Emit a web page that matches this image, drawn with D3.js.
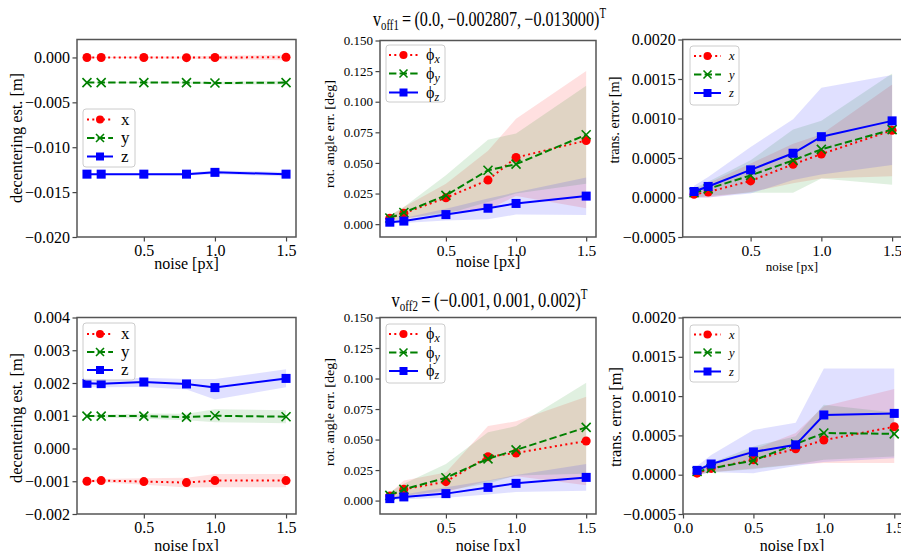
<!DOCTYPE html>
<html>
<head>
<meta charset="utf-8">
<script src="https://cdn.jsdelivr.net/npm/d3@7"></script>
<style>
  body { margin: 0; background: #fff; }
  svg { display: block; font-family: "Liberation Serif", "Times New Roman", serif; }
  svg text { font-family: "Liberation Serif", "Times New Roman", serif; }
</style>
</head>
<body>
<svg id="chart" width="901" height="551"></svg>
<script>
// noise levels on the x axis
const noise = [0.1, 0.2, 0.5, 0.8, 1.0, 1.5];

// --- v_off1: decentering estimate [m]
const dec1X   = [0.0, 0.0, 0.0, -0.00002, 0.0, 0.00002];
const dec1XLo = [-0.00005, -0.00005, -0.0001, -0.00015, -0.0002, -0.0003];
const dec1XHi = [0.00005, 0.00005, 0.0001, 0.00012, 0.0002, 0.0003];
const dec1Y   = [-0.0028, -0.0028, -0.0028, -0.0028, -0.00285, -0.0028];
const dec1YLo = [-0.00283, -0.00284, -0.00288, -0.0029, -0.003, -0.003];
const dec1YHi = [-0.00277, -0.00276, -0.00272, -0.0027, -0.0027, -0.0026];
const dec1Z   = [-0.0130, -0.0130, -0.0130, -0.0130, -0.0128, -0.0130];
const dec1ZLo = [-0.01305, -0.01308, -0.0131, -0.01315, -0.013, -0.01325];
const dec1ZHi = [-0.01295, -0.01292, -0.0129, -0.01285, -0.0126, -0.01275];

// --- v_off1: rotation angle error [deg]
const rot1X   = [0.0049, 0.009, 0.0215, 0.036, 0.0544, 0.0683];
const rot1XLo = [0.003, 0.004, 0.010, 0.012, 0.023, 0.013];
const rot1XHi = [0.007, 0.014, 0.033, 0.060, 0.086, 0.125];
const rot1Y   = [0.005, 0.0095, 0.0235, 0.044, 0.049, 0.073];
const rot1YLo = [0.003, 0.005, 0.008, 0.018, 0.025, 0.033];
const rot1YHi = [0.007, 0.014, 0.040, 0.069, 0.074, 0.113];
const rot1Z   = [0.0016, 0.0025, 0.0078, 0.013, 0.0169, 0.0229];
const rot1ZLo = [0.0005, 0.001, 0.003, 0.004, 0.0078, 0.0075];
const rot1ZHi = [0.003, 0.005, 0.0125, 0.021, 0.026, 0.038];

// --- v_off1: translation error [m]
const tr1X   = [0.00004, 0.00007, 0.00021, 0.00042, 0.00055, 0.00085];
const tr1XLo = [0.0, 0.0, 0.00007, 0.00018, 0.00024, 0.00027];
const tr1XHi = [0.0001, 0.00018, 0.00043, 0.00068, 0.0008, 0.00143];
const tr1Y   = [0.00006, 0.00011, 0.00028, 0.00047, 0.00061, 0.00086];
const tr1YLo = [0.0, 0.00002, 0.00006, 0.00006, 0.00024, 0.00016];
const tr1YHi = [0.00012, 0.0002, 0.00047, 0.00086, 0.00097, 0.00157];
const tr1Z   = [0.000076, 0.00014, 0.00035, 0.00056, 0.00077, 0.00097];
const tr1ZLo = [0.0, 0.0, 0.00005, 0.00022, 0.00029, 0.00041];
const tr1ZHi = [0.00015, 0.00026, 0.00064, 0.00099, 0.00139, 0.00155];

// --- v_off2: decentering estimate [m]
const dec2X   = [-0.00100, -0.00098, -0.00101, -0.00104, -0.00098, -0.00098];
const dec2XLo = [-0.00104, -0.00103, -0.00111, -0.00119, -0.00118, -0.00118];
const dec2XHi = [-0.00096, -0.00093, -0.00091, -0.00089, -0.00078, -0.00078];
const dec2Y   = [0.00099, 0.00099, 0.00099, 0.00096, 0.0010, 0.00097];
const dec2YLo = [0.00096, 0.00095, 0.00091, 0.00086, 0.00080, 0.00077];
const dec2YHi = [0.00102, 0.00103, 0.00107, 0.00106, 0.00120, 0.00117];
const dec2Z   = [0.00199, 0.00198, 0.00203, 0.00197, 0.00186, 0.00214];
const dec2ZLo = [0.00187, 0.00187, 0.00188, 0.0018, 0.0015, 0.00187];
const dec2ZHi = [0.00211, 0.00211, 0.00216, 0.00212, 0.00212, 0.00242];

// --- v_off2: rotation angle error [deg]
const rot2X   = [0.0038, 0.0092, 0.0155, 0.036, 0.039, 0.0488];
const rot2XLo = [0.002, 0.004, 0.007, 0.016, 0.020, 0.0125];
const rot2XHi = [0.006, 0.0165, 0.023, 0.061, 0.065, 0.085];
const rot2Y   = [0.0043, 0.0092, 0.0187, 0.0342, 0.0415, 0.060];
const rot2YLo = [0.002, 0.004, 0.008, 0.014, 0.0206, 0.022];
const rot2YHi = [0.007, 0.0138, 0.030, 0.056, 0.061, 0.0966];
const rot2Z   = [0.0016, 0.003, 0.0057, 0.0108, 0.0141, 0.019];
const rot2ZLo = [0.0005, 0.001, 0.0024, 0.0049, 0.007, 0.008];
const rot2ZHi = [0.003, 0.005, 0.011, 0.0165, 0.021, 0.030];

// --- v_off2: translation error [m]
const tr2X   = [0.00002, 0.00008, 0.00019, 0.00033, 0.00044, 0.00061];
const tr2XLo = [0.0, 0.00003, 0.00008, 0.00013, 0.00015, 0.00015];
const tr2XHi = [0.00005, 0.00014, 0.00032, 0.00053, 0.00087, 0.00109];
const tr2Y   = [0.00004, 0.00008, 0.00018, 0.00039, 0.00053, 0.00052];
const tr2YLo = [0.0, 0.00003, 0.00007, 0.00013, 0.00019, 0.00023];
const tr2YHi = [0.00008, 0.00015, 0.00036, 0.00049, 0.00089, 0.00079];
const tr2Z   = [0.000055, 0.000136, 0.00029, 0.00038, 0.00076, 0.00078];
const tr2ZLo = [0.0, 0.00003, 0.00002, 0.00011, 0.00016, 0.00021];
const tr2ZHi = [0.00011, 0.00025, 0.00057, 0.00066, 0.00135, 0.00135];

// tick values
const decTicks1 = [-0.020, -0.015, -0.010, -0.005, 0.000];
const decTicks2 = [-0.002, -0.001, 0.000, 0.001, 0.002, 0.003, 0.004];
const rotTicks = [0.000, 0.025, 0.050, 0.075, 0.100, 0.125, 0.150];
const transTicks = [-0.0005, 0.0000, 0.0005, 0.0010, 0.0015, 0.0020];
const noiseTicks = [0.5, 1.0, 1.5];
const noiseTicksZero = [0.0, 0.5, 1.0, 1.5];

const svg = d3.select('#chart');
const serif = '"Liberation Serif", "Times New Roman", serif';

const styles = [
  { color: '#ff0000', dash: '2,3.3', marker: 'circle' },
  { color: '#008000', dash: '7.4,3.2', marker: 'x' },
  { color: '#0000ff', dash: null, marker: 'square' }
];

function marker(g, type, cx, cy, color, s) {
  if (type === 'circle') {
    g.append('circle').attr('cx', cx).attr('cy', cy).attr('r', s / 2).attr('fill', color);
  } else if (type === 'square') {
    g.append('rect').attr('x', cx - s / 2).attr('y', cy - s / 2)
      .attr('width', s).attr('height', s).attr('fill', color);
  } else {
    const h = s / 2;
    g.append('path')
      .attr('d', `M${cx - h},${cy - h}L${cx + h},${cy + h}M${cx - h},${cy + h}L${cx + h},${cy - h}`)
      .attr('stroke', color).attr('stroke-width', 1.6).attr('fill', 'none');
  }
}

function panel(o) {
  const x = d3.scaleLinear().domain(o.xDomain).range([o.left, o.right]);
  const y = d3.scaleLinear().domain(o.yDomain).range([o.bottom, o.top]);
  const g = svg.append('g');

  // bands first
  o.series.forEach((s, i) => {
    const pts = noise.map((n, k) => ({ n, lo: s.lo[k], hi: s.hi[k] }));
    g.append('path').datum(pts)
      .attr('d', d3.area().x(d => x(d.n)).y0(d => y(d.lo)).y1(d => y(d.hi)))
      .attr('fill', styles[i].color).attr('fill-opacity', 0.12);
  });

  // lines + markers
  o.series.forEach((s, i) => {
    const st = styles[i];
    const pts = noise.map((n, k) => [x(n), y(s.mean[k])]);
    g.append('path').datum(pts)
      .attr('d', d3.line())
      .attr('fill', 'none').attr('stroke', st.color).attr('stroke-width', 2)
      .attr('stroke-dasharray', st.dash);
    pts.forEach(p => marker(g, st.marker, p[0], p[1], st.color, 9));
  });

  // axes
  const yAxis = d3.axisLeft(y).tickValues(o.yTicks).tickFormat(d3.format(o.yFmt))
    .tickSize(4.5).tickSizeOuter(0).tickPadding(2.5);
  const ya = g.append('g').attr('transform', `translate(${o.left},0)`).call(yAxis);
  ya.selectAll('text').style('font-size', o.yFont + 'px');

  const xAxis = d3.axisBottom(x).tickValues(o.xTicks).tickFormat(d3.format('.1f'))
    .tickSize(4.5).tickSizeOuter(0).tickPadding(3);
  const xa = g.append('g').attr('transform', `translate(0,${o.bottom})`).call(xAxis);
  xa.selectAll('text').style('font-size', o.xFont + 'px');

  [ya, xa].forEach(a => {
    a.attr('font-family', null).attr('font-size', null);
    a.selectAll('text').style('font-family', serif).attr('fill', '#000');
    a.select('.domain').remove();
    a.selectAll('.tick line').attr('stroke', '#444').attr('stroke-width', 1.2);
  });

  g.append('rect')
    .attr('x', o.left).attr('y', o.top)
    .attr('width', o.right - o.left).attr('height', o.bottom - o.top)
    .attr('fill', 'none').attr('stroke', '#555').attr('stroke-width', 1.5);

  // axis labels
  g.append('text')
    .attr('transform', `translate(${o.ylabelX},${o.ylabelY}) rotate(-90)`)
    .attr('text-anchor', 'middle')
    .attr('textLength', o.ylabelLen).attr('lengthAdjust', 'spacingAndGlyphs')
    .style('font-size', o.ylabelFont + 'px')
    .text(o.ylabel);
  g.append('text')
    .attr('x', (o.left + Math.min(o.right, 901)) / 2)
    .attr('y', o.xlabelY)
    .attr('text-anchor', 'middle')
    .style('font-size', o.xlabelFont + 'px')
    .text('noise [px]');

  // legend
  const L = o.legend;
  const lg = g.append('g');
  lg.append('rect')
    .attr('x', L.x).attr('y', L.y).attr('width', L.w).attr('height', L.h)
    .attr('rx', 3).attr('fill', '#fff').attr('fill-opacity', 0.85)
    .attr('stroke', '#ccc').attr('stroke-width', 1);
  L.rows.forEach((ry, i) => {
    const st = styles[i];
    lg.append('line')
      .attr('x1', L.x + L.lineX0).attr('x2', L.x + L.lineX1).attr('y1', ry).attr('y2', ry)
      .attr('stroke', st.color).attr('stroke-width', 2).attr('stroke-dasharray', st.dash);
    marker(lg, st.marker, L.x + (L.lineX0 + L.lineX1) / 2, ry, st.color, 8);
    L.label(lg, i, L.x + L.textX, ry);
  });
}

const axisNames = ['x', 'y', 'z'];

function plainLabel(lg, i, tx, ty) {
  lg.append('text').attr('x', tx).attr('y', ty + 5)
    .style('font-size', '17px').text(axisNames[i]);
}
function phiLabel(lg, i, tx, ty) {
  const t = lg.append('text').attr('x', tx).attr('y', ty + 5).style('font-size', '16px');
  t.append('tspan').text('ϕ');
  t.append('tspan').attr('dy', 3).style('font-size', '12px').style('font-style', 'italic').text(axisNames[i]);
}
function italicLabel(lg, i, tx, ty) {
  lg.append('text').attr('x', tx).attr('y', ty + 4)
    .style('font-size', '12.5px').style('font-style', 'italic').text(axisNames[i]);
}

const colL = [77, 296], colM = [380, 596], colR = [682.7, 902];
const rowT = [39.5, 237], rowB = [317.5, 514];

function mk(mean, lo, hi) { return { mean, lo, hi }; }

// top row
panel({
  left: colL[0], right: colL[1], top: rowT[0], bottom: rowT[1],
  xDomain: [0.03, 1.57], yDomain: [-0.020, 0.002], yTicks: decTicks1, yFmt: '.3f',
  xTicks: noiseTicks, yFont: 16, xFont: 16,
  series: [mk(dec1X, dec1XLo, dec1XHi), mk(dec1Y, dec1YLo, dec1YHi), mk(dec1Z, dec1ZLo, dec1ZHi)],
  ylabel: 'decentering est. [m]', ylabelX: 21.5, ylabelY: 138, ylabelLen: 130, ylabelFont: 16,
  xlabelY: 269, xlabelFont: 16,
  legend: { x: 83, y: 109, w: 52, h: 58, rows: [119.5, 138, 156.5], lineX0: 4, lineX1: 30, textX: 38, label: plainLabel }
});
panel({
  left: colM[0], right: colM[1], top: 40.5, bottom: rowT[1],
  xDomain: [0.03, 1.57], yDomain: [-0.0105, 0.150], yTicks: rotTicks, yFmt: '.3f',
  xTicks: noiseTicks, yFont: 13, xFont: 15.5,
  series: [mk(rot1X, rot1XLo, rot1XHi), mk(rot1Y, rot1YLo, rot1YHi), mk(rot1Z, rot1ZLo, rot1ZHi)],
  ylabel: 'rot. angle err. [deg]', ylabelX: 334, ylabelY: 134, ylabelLen: 108, ylabelFont: 13.5,
  xlabelY: 267, xlabelFont: 16,
  legend: { x: 386, y: 45, w: 59, h: 57, rows: [55, 73.5, 92.5], lineX0: 3, lineX1: 32, textX: 40, label: phiLabel }
});
panel({
  left: colR[0], right: colR[1], top: rowT[0], bottom: rowT[1],
  xDomain: [0.02, 1.57], yDomain: [-0.0005, 0.0020], yTicks: transTicks, yFmt: '.4f',
  xTicks: noiseTicks, yFont: 16, xFont: 15.5,
  series: [mk(tr1X, tr1XLo, tr1XHi), mk(tr1Y, tr1YLo, tr1YHi), mk(tr1Z, tr1ZLo, tr1ZHi)],
  ylabel: 'trans. error [m]', ylabelX: 619, ylabelY: 120, ylabelLen: 87, ylabelFont: 14,
  xlabelY: 271, xlabelFont: 13,
  legend: { x: 690, y: 46, w: 49, h: 59, rows: [56, 74.5, 93], lineX0: 4, lineX1: 31, textX: 39, label: italicLabel }
});

// bottom row
panel({
  left: colL[0], right: colL[1], top: rowB[0], bottom: rowB[1],
  xDomain: [0.03, 1.57], yDomain: [-0.002, 0.004], yTicks: decTicks2, yFmt: '.3f',
  xTicks: noiseTicks, yFont: 16, xFont: 16,
  series: [mk(dec2X, dec2XLo, dec2XHi), mk(dec2Y, dec2YLo, dec2YHi), mk(dec2Z, dec2ZLo, dec2ZHi)],
  ylabel: 'decentering est. [m]', ylabelX: 21.5, ylabelY: 418, ylabelLen: 130, ylabelFont: 16,
  xlabelY: 551, xlabelFont: 16,
  legend: { x: 83, y: 323, w: 52, h: 57, rows: [334, 352, 370], lineX0: 4, lineX1: 30, textX: 38, label: plainLabel }
});
panel({
  left: colM[0], right: colM[1], top: rowB[0], bottom: rowB[1],
  xDomain: [0.03, 1.57], yDomain: [-0.011, 0.150], yTicks: rotTicks, yFmt: '.3f',
  xTicks: noiseTicks, yFont: 13, xFont: 15.5,
  series: [mk(rot2X, rot2XLo, rot2XHi), mk(rot2Y, rot2YLo, rot2YHi), mk(rot2Z, rot2ZLo, rot2ZHi)],
  ylabel: 'rot. angle err. [deg]', ylabelX: 334, ylabelY: 412, ylabelLen: 108, ylabelFont: 13.5,
  xlabelY: 551, xlabelFont: 16,
  legend: { x: 386, y: 324, w: 59, h: 59, rows: [334, 352.5, 371], lineX0: 3, lineX1: 32, textX: 40, label: phiLabel }
});
panel({
  left: 683, right: colR[1], top: rowB[0], bottom: rowB[1],
  xDomain: [0.0, 1.555], yDomain: [-0.0005, 0.0020], yTicks: transTicks, yFmt: '.4f',
  xTicks: noiseTicksZero, yFont: 16, xFont: 15.5,
  series: [mk(tr2X, tr2XLo, tr2XHi), mk(tr2Y, tr2YLo, tr2YHi), mk(tr2Z, tr2ZLo, tr2ZHi)],
  ylabel: 'trans. error [m]', ylabelX: 620.5, ylabelY: 417, ylabelLen: 100, ylabelFont: 16,
  xlabelY: 551, xlabelFont: 16,
  legend: { x: 690, y: 325, w: 49, h: 57, rows: [334.5, 352.5, 371.5], lineX0: 4, lineX1: 31, textX: 39, label: italicLabel }
});

// column titles
function title(cx, by, len, sub, body) {
  const t = svg.append('text').attr('x', cx).attr('y', by)
    .attr('text-anchor', 'middle').attr('textLength', len).attr('lengthAdjust', 'spacingAndGlyphs')
    .style('font-size', '21px');
  t.append('tspan').text('v');
  t.append('tspan').attr('dy', 4).style('font-size', '14px').text(sub);
  t.append('tspan').attr('dy', -4).text('\u2009=\u2009' + body);
  t.append('tspan').attr('dy', -8).style('font-size', '14px').text('T');
}
title(489.5, 26, 233, 'off1', '(0.0,\u2009−0.002807,\u2009−0.013000)');
title(489.5, 307, 196, 'off2', '(−0.001,\u20090.001,\u20090.002)');
</script>
</body>
</html>
